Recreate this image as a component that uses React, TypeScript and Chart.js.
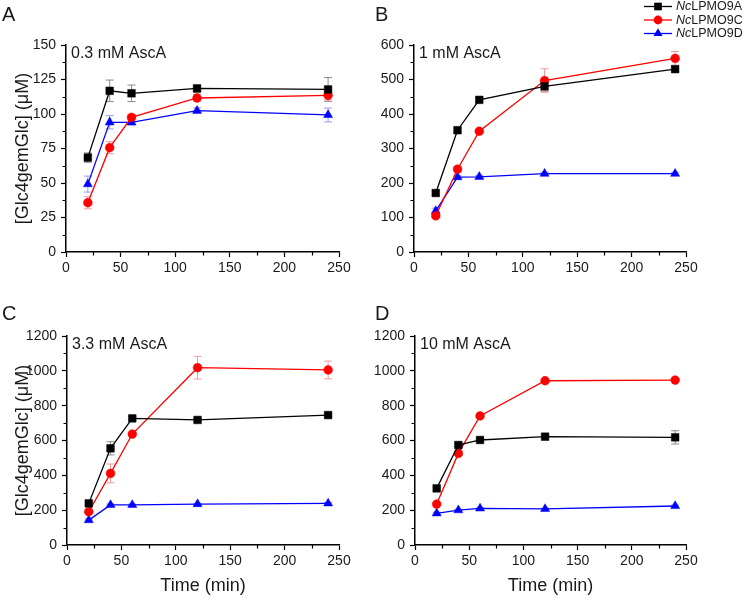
import React, { useEffect, useRef } from "react";
import { Chart, registerables } from "chart.js";

Chart.register(...registerables);

// ---------- data ----------
const TIME_MIN = [20, 40, 60, 120, 240];
const SERIES_NAMES = ["NcLPMO9A", "NcLPMO9C", "NcLPMO9D"];
const PANEL_LETTERS = ["A", "B", "C", "D"];
const PANEL_NOTES = ["0.3 mM AscA", "1 mM AscA", "3.3 mM AscA", "10 mM AscA"];
const Y_MAX = [150, 600, 1200, 1200];
const Y_STEP = [25, 100, 200, 200];
const X_MAX = 250;
const X_STEP = 50;
const Y_TITLE = "[Glc4gemGlc] (\u03BCM)";
const X_TITLE = "Time (min)";

// Panel A: 0.3 mM AscA
const A_9A = [68.4, 116.8, 115, 118.5, 117.8];
const A_9A_ERR = [3.4, 7.8, 6, 2.5, 8.6];
const A_9C = [35.7, 75.6, 97.6, 111.6, 113.5];
const A_9C_ERR = [4.4, 4.4, 2, 2.6, 3.4];
const A_9D = [49.2, 94, 94, 102.4, 99.3];
const A_9D_ERR = [5.8, 4.8, 2, 2, 5];

// Panel B: 1 mM AscA
const B_9A = [171, 353, 441, 480, 530];
const B_9A_ERR = [6, 6, 6, 14, 6];
const B_9C = [105, 240, 350, 497, 561];
const B_9C_ERR = [5, 8, 6, 34, 20];
const B_9D = [119, 217, 218, 227, 227];
const B_9D_ERR = [8, 5, 4, 4, 4];

// Panel C: 3.3 mM AscA
const C_9A = [239, 555, 727, 718, 746];
const C_9A_ERR = [10, 38, 10, 8, 8];
const C_9C = [191, 411, 637, 1018, 1005];
const C_9C_ERR = [10, 54, 10, 65, 51];
const C_9D = [143, 230, 230, 235, 239];
const C_9D_ERR = [6, 6, 5, 5, 5];

// Panel D: 10 mM AscA
const D_9A = [325, 574, 603, 622, 618];
const D_9A_ERR = [8, 10, 6, 8, 38];
const D_9C = [235, 526, 741, 943, 947];
const D_9C_ERR = [6, 8, 6, 6, 6];
const D_9D = [182, 200, 210, 207, 224];
const D_9D_ERR = [6, 5, 4, 4, 5];

const PANEL_VALUES = [
  [A_9A, A_9C, A_9D],
  [B_9A, B_9C, B_9D],
  [C_9A, C_9C, C_9D],
  [D_9A, D_9C, D_9D],
];
const PANEL_ERRORS = [
  [A_9A_ERR, A_9C_ERR, A_9D_ERR],
  [B_9A_ERR, B_9C_ERR, B_9D_ERR],
  [C_9A_ERR, C_9C_ERR, C_9D_ERR],
  [D_9A_ERR, D_9C_ERR, D_9D_ERR],
];

// ---------- styles / layout ----------
const FONT = "'Liberation Sans', Arial, Helvetica, sans-serif";
const TEXT_COLOR = "#1a1a1a";
const SERIES_COLORS = ["#000000", "#ff0000", "#0000ff"];
const ERR_COLORS = ["#8a8a8a", "#f29a9a", "#9a9af2"];
const POINT_STYLES = ["rect", "circle", "triangle"];
const POINT_RADII = [5.4, 4.4, 5.2];

const LAYOUT = [
  { left: 0, top: 0, w: 372, h: 300, area: { l: 66, t: 45, r: 339, b: 252 }, yTitle: true, xTitle: false, legend: false, letter: [2, 21], note: [71, 58] },
  { left: 372, top: 0, w: 373, h: 300, area: { l: 414, t: 45, r: 686, b: 252 }, yTitle: false, xTitle: false, legend: true, letter: [375, 21], note: [419, 58] },
  { left: 0, top: 300, w: 372, h: 298, area: { l: 67, t: 336, r: 339, b: 545 }, yTitle: true, xTitle: true, legend: false, letter: [2, 320], note: [72, 349] },
  { left: 372, top: 300, w: 373, h: 298, area: { l: 415, t: 336, r: 686, b: 545 }, yTitle: false, xTitle: true, legend: false, letter: [375, 320], note: [420, 349] },
];

function drawMarker(ctx: CanvasRenderingContext2D, style: string, x: number, y: number, r: number, color: string) {
  ctx.save();
  ctx.fillStyle = color;
  ctx.beginPath();
  if (style === "rect") {
    const s = r * Math.SQRT1_2;
    ctx.rect(x - s, y - s, 2 * s, 2 * s);
  } else if (style === "circle") {
    ctx.arc(x, y, r, 0, Math.PI * 2);
  } else {
    ctx.moveTo(x, y - r);
    ctx.lineTo(x - r * 0.866, y + r * 0.5);
    ctx.lineTo(x + r * 0.866, y + r * 0.5);
    ctx.closePath();
  }
  ctx.fill();
  ctx.restore();
}

function makeDeco(idx: number) {
  const cfg = LAYOUT[idx];
  return {
    id: "deco" + idx,
    beforeDatasetsDraw(chart: any) {
      const ctx = chart.ctx as CanvasRenderingContext2D;
      const xs = chart.scales.x;
      const ys = chart.scales.y;
      const errs = PANEL_ERRORS[idx];
      const vals = PANEL_VALUES[idx];
      ctx.save();
      ctx.lineWidth = 1;
      for (let s = 0; s < 3; s++) {
        ctx.strokeStyle = ERR_COLORS[s];
        for (let i = 0; i < TIME_MIN.length; i++) {
          const x = xs.getPixelForValue(TIME_MIN[i]);
          const y1 = ys.getPixelForValue(vals[s][i] - errs[s][i]);
          const y2 = ys.getPixelForValue(vals[s][i] + errs[s][i]);
          ctx.beginPath();
          ctx.moveTo(x, y1);
          ctx.lineTo(x, y2);
          ctx.moveTo(x - 4, y1);
          ctx.lineTo(x + 4, y1);
          ctx.moveTo(x - 4, y2);
          ctx.lineTo(x + 4, y2);
          ctx.stroke();
        }
      }
      ctx.restore();
    },
    afterDraw(chart: any) {
      const ctx = chart.ctx as CanvasRenderingContext2D;
      const xs = chart.scales.x;
      const ys = chart.scales.y;
      const ca = chart.chartArea;
      ctx.save();
      // minor ticks
      ctx.strokeStyle = "#000";
      ctx.lineWidth = 1.2;
      ctx.beginPath();
      for (let v = X_STEP / 2; v < X_MAX; v += X_STEP) {
        const x = Math.round(xs.getPixelForValue(v)) + 0.5;
        ctx.moveTo(x, ca.bottom);
        ctx.lineTo(x, ca.bottom + 3.5);
      }
      const ystep = Y_STEP[idx];
      for (let v = ystep / 2; v < Y_MAX[idx]; v += ystep) {
        const y = Math.round(ys.getPixelForValue(v)) + 0.5;
        ctx.moveTo(ca.left, y);
        ctx.lineTo(ca.left - 3.5, y);
      }
      ctx.stroke();

      // panel letter
      ctx.fillStyle = TEXT_COLOR;
      ctx.textBaseline = "alphabetic";
      ctx.textAlign = "left";
      ctx.font = `20px ${FONT}`;
      ctx.fillText(PANEL_LETTERS[idx], cfg.letter[0] - cfg.left, cfg.letter[1] - cfg.top);

      // concentration note
      ctx.font = `16px ${FONT}`;
      ctx.fillText(PANEL_NOTES[idx], cfg.note[0] - cfg.left, cfg.note[1] - cfg.top);

      // legend
      if (cfg.legend) {
        const rows = [6.5, 20, 33.5];
        for (let s = 0; s < 3; s++) {
          const y = rows[s];
          const x0 = 644 - cfg.left;
          const x1 = 672 - cfg.left;
          ctx.strokeStyle = SERIES_COLORS[s];
          ctx.lineWidth = 1.3;
          ctx.beginPath();
          ctx.moveTo(x0, y);
          ctx.lineTo(x1, y);
          ctx.stroke();
          drawMarker(ctx, POINT_STYLES[s], (x0 + x1) / 2, y, POINT_RADII[s], SERIES_COLORS[s]);
          const name = SERIES_NAMES[s];
          const ital = name.slice(0, 2);
          const rest = name.slice(2);
          ctx.fillStyle = TEXT_COLOR;
          ctx.textBaseline = "middle";
          ctx.font = `italic 12.5px ${FONT}`;
          const tx = 676 - cfg.left;
          ctx.fillText(ital, tx, y + 0.5);
          const w = ctx.measureText(ital).width;
          ctx.font = `12.5px ${FONT}`;
          ctx.fillText(rest, tx + w, y + 0.5);
        }
      }
      ctx.restore();
    },
  };
}

function Panel({ idx }: { idx: number }) {
  const ref = useRef<HTMLCanvasElement | null>(null);
  const cfg = LAYOUT[idx];
  useEffect(() => {
    if (!ref.current) return;
    const yAxisWidth = cfg.area.l - cfg.left;
    const xAxisHeight = cfg.top + cfg.h - cfg.area.b;
    const datasets = SERIES_NAMES.map((name, s) => ({
      label: name,
      data: TIME_MIN.map((t, i) => ({ x: t, y: PANEL_VALUES[idx][s][i] })),
      borderColor: SERIES_COLORS[s],
      backgroundColor: SERIES_COLORS[s],
      pointBackgroundColor: SERIES_COLORS[s],
      pointBorderColor: SERIES_COLORS[s],
      pointStyle: POINT_STYLES[s],
      pointRadius: POINT_RADII[s],
      pointBorderWidth: 0.5,
      borderWidth: 1.3,
      tension: 0,
      fill: false,
    }));
    const plainNumber = (v: any) => String(v);
    const chart = new Chart(ref.current, {
      type: "line",
      data: { datasets },
      options: {
        responsive: false,
        animation: false,
        devicePixelRatio: 1,
        events: [],
        layout: {
          padding: {
            left: 0,
            top: cfg.area.t - cfg.top,
            right: cfg.left + cfg.w - cfg.area.r,
            bottom: 0,
          },
        },
        plugins: {
          legend: { display: false },
          tooltip: { enabled: false },
          title: { display: false },
        },
        scales: {
          x: {
            type: "linear",
            min: 0,
            max: X_MAX,
            ticks: {
              stepSize: X_STEP,
              font: { family: FONT, size: 14 },
              color: TEXT_COLOR,
              padding: 3,
              maxRotation: 0,
              callback: plainNumber,
            },
            grid: {
              drawOnChartArea: false,
              drawTicks: true,
              tickLength: 5,
              tickColor: "#000",
              tickWidth: 1.2,
            },
            border: { display: true, color: "#000", width: 1.5 },
            title: {
              display: cfg.xTitle,
              text: X_TITLE,
              font: { family: FONT, size: 18 },
              color: TEXT_COLOR,
              padding: { top: 0, bottom: 1 },
            },
            afterFit: (scale: any) => {
              scale.height = xAxisHeight;
            },
          },
          y: {
            type: "linear",
            min: 0,
            max: Y_MAX[idx],
            ticks: {
              stepSize: Y_STEP[idx],
              font: { family: FONT, size: 14 },
              color: TEXT_COLOR,
              padding: 5,
              callback: plainNumber,
            },
            grid: {
              drawOnChartArea: false,
              drawTicks: true,
              tickLength: 5,
              tickColor: "#000",
              tickWidth: 1.2,
            },
            border: { display: true, color: "#000", width: 1.5 },
            title: {
              display: cfg.yTitle,
              text: Y_TITLE,
              font: { family: FONT, size: 18 },
              color: TEXT_COLOR,
              padding: { top: 12, bottom: 0 },
            },
            afterFit: (scale: any) => {
              scale.width = yAxisWidth;
            },
          },
        },
      } as any,
      plugins: [makeDeco(idx)],
    });
    return () => chart.destroy();
  }, []);
  return (
    <canvas
      ref={ref}
      width={cfg.w}
      height={cfg.h}
      style={{ position: "absolute", left: cfg.left, top: cfg.top, width: cfg.w, height: cfg.h, display: "block" }}
    />
  );
}

export default function App() {
  return (
    <div style={{ position: "absolute", left: 0, top: 0, width: 745, height: 598, background: "#fff", overflow: "hidden" }}>
      {LAYOUT.map((_, i) => (
        <Panel key={i} idx={i} />
      ))}
    </div>
  );
}
